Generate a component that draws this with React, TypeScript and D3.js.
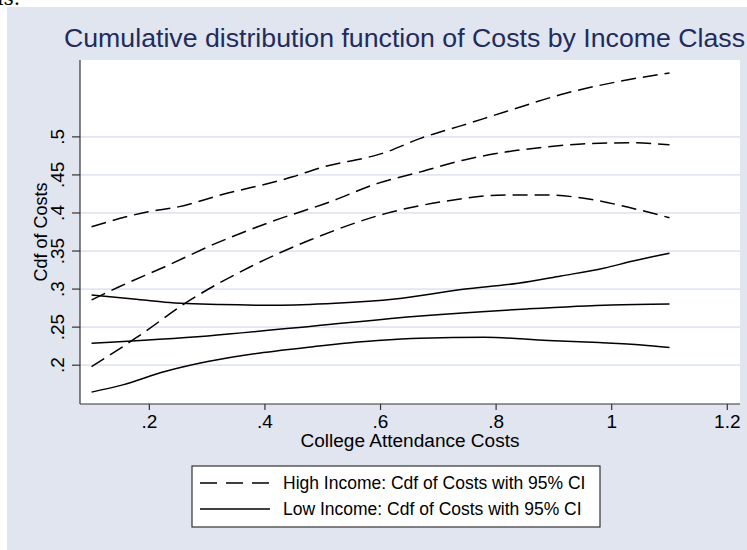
import React from 'react';
import * as d3 from 'd3';

const xTicks = [0.2, 0.4, 0.6, 0.8, 1, 1.2];
const xTickLabels = ['.2', '.4', '.6', '.8', '1', '1.2'];
const yTicks = [0.2, 0.25, 0.3, 0.35, 0.4, 0.45, 0.5];
const yTickLabels = ['.2', '.25', '.3', '.35', '.4', '.45', '.5'];

// High income (dashed)
const highUpperX = [0.1, 0.198, 0.25, 0.323, 0.448, 0.492, 0.61, 0.669, 0.743, 0.816, 0.919, 1.007, 1.1];
const highUpperY = [0.382, 0.4016, 0.408, 0.4235, 0.4475, 0.4585, 0.48, 0.498, 0.5154, 0.533, 0.557, 0.572, 0.584];
const highMidX = [0.1, 0.146, 0.227, 0.315, 0.411, 0.514, 0.595, 0.669, 0.743, 0.816, 0.89, 0.963, 1.037, 1.1];
const highMidY = [0.2858, 0.3024, 0.3294, 0.36, 0.3885, 0.415, 0.4389, 0.454, 0.4694, 0.48, 0.487, 0.4913, 0.4922, 0.4895];
const highLowerX = [0.1, 0.176, 0.271, 0.374, 0.478, 0.61, 0.706, 0.816, 0.89, 0.963, 1.037, 1.1];
const highLowerY = [0.198, 0.2354, 0.2857, 0.329, 0.3644, 0.3995, 0.4147, 0.4235, 0.4235, 0.418, 0.406, 0.3937];

// Low income (solid)
const lowUpperX = [0.1, 0.168, 0.227, 0.323, 0.419, 0.522, 0.625, 0.743, 0.838, 0.912, 0.986, 1.037, 1.1];
const lowUpperY = [0.2923, 0.2874, 0.2827, 0.2796, 0.2787, 0.2813, 0.287, 0.2997, 0.3076, 0.3172, 0.3273, 0.3369, 0.347];
const lowMidX = [0.1, 0.301, 0.485, 0.669, 0.853, 1.0, 1.1];
const lowMidY = [0.2289, 0.2385, 0.2516, 0.2647, 0.2739, 0.2791, 0.2804];
const lowLowerX = [0.1, 0.154, 0.227, 0.301, 0.389, 0.485, 0.595, 0.669, 0.78, 0.89, 0.978, 1.052, 1.1];
const lowLowerY = [0.1646, 0.1741, 0.1916, 0.2047, 0.2157, 0.2244, 0.2323, 0.2354, 0.2367, 0.2323, 0.2297, 0.2266, 0.2231];

const legendLabels = [
  'High Income: Cdf of Costs with 95% CI',
  'Low Income: Cdf of Costs with 95% CI',
];

const W = 747;
const H = 550;
const plot = { left: 80, right: 740, top: 60, bottom: 404 };
const FONT = 'Liberation Sans, Arial, Helvetica, sans-serif';
const DASH = '15 7';

export default function App() {
  const x = d3.scaleLinear().domain([0.08, 1.222]).range([plot.left, plot.right]);
  const y = d3.scaleLinear().domain([0.149, 0.601]).range([plot.bottom, plot.top]);
  const line = d3
    .line<[number, number]>()
    .x((d) => x(d[0]))
    .y((d) => y(d[1]))
    .curve(d3.curveMonotoneX);
  const zipXY = (xs: number[], ys: number[]) => xs.map((v, i) => [v, ys[i]] as [number, number]);

  const series = [
    { xs: highUpperX, ys: highUpperY, dashed: true },
    { xs: highMidX, ys: highMidY, dashed: true },
    { xs: highLowerX, ys: highLowerY, dashed: true },
    { xs: lowUpperX, ys: lowUpperY, dashed: false },
    { xs: lowMidX, ys: lowMidY, dashed: false },
    { xs: lowLowerX, ys: lowLowerY, dashed: false },
  ];

  const legend = { x: 192, y: 466, w: 408, h: 61 };

  return (
    <svg
      width={W}
      height={H}
      style={{ position: 'absolute', left: 0, top: 0 }}
      fontFamily={FONT}
    >
      <rect x={0} y={0} width={W} height={H} fill="#ffffff" />
      <text x={-3} y={5} fontFamily="DejaVu Serif, serif" fontSize={20} fill="#000">is.</text>
      <rect x={7} y={7} width={W - 7} height={H - 7} fill="#e0e5f0" />
      <text x={64} y={47} fontSize={25} fill="#1f2c5c" textLength={681} lengthAdjust="spacingAndGlyphs">
        Cumulative distribution function of Costs by Income Class
      </text>
      <rect
        x={plot.left}
        y={plot.top}
        width={plot.right - plot.left}
        height={plot.bottom - plot.top}
        fill="#ffffff"
      />
      {yTicks.map((t) => (
        <line
          key={'g' + t}
          x1={plot.left}
          x2={plot.right}
          y1={y(t)}
          y2={y(t)}
          stroke="#e1e6f0"
          strokeWidth={1.8}
        />
      ))}
      {series.map((s, i) => (
        <path
          key={i}
          d={line(zipXY(s.xs, s.ys)) || ''}
          fill="none"
          stroke="#000"
          strokeWidth={1.5}
          strokeDasharray={s.dashed ? DASH : undefined}
        />
      ))}
      <line x1={plot.left} x2={plot.left} y1={plot.top} y2={plot.bottom} stroke="#333" strokeWidth={1.2} />
      <line x1={plot.left} x2={plot.right} y1={plot.bottom} y2={plot.bottom} stroke="#333" strokeWidth={1.2} />
      {yTicks.map((t, i) => (
        <g key={'yt' + t}>
          <line x1={plot.left - 8} x2={plot.left} y1={y(t)} y2={y(t)} stroke="#333" strokeWidth={1.2} />
          <text
            transform={`translate(64,${y(t)}) rotate(-90)`}
            textAnchor="middle"
            fontSize={19}
            fill="#000"
          >
            {yTickLabels[i]}
          </text>
        </g>
      ))}
      {xTicks.map((t, i) => (
        <g key={'xt' + t}>
          <line x1={x(t)} x2={x(t)} y1={plot.bottom} y2={plot.bottom + 6} stroke="#333" strokeWidth={1.2} />
          <text x={x(t)} y={428} textAnchor="middle" fontSize={19} fill="#000">
            {xTickLabels[i]}
          </text>
        </g>
      ))}
      <text
        transform={`translate(47,${(plot.top + plot.bottom) / 2}) rotate(-90)`}
        textAnchor="middle"
        fontSize={18}
        fill="#000"
      >
        Cdf of Costs
      </text>
      <text x={(plot.left + plot.right) / 2} y={447} textAnchor="middle" fontSize={18} fill="#000" textLength={219} lengthAdjust="spacingAndGlyphs">
        College Attendance Costs
      </text>
      <rect
        x={legend.x}
        y={legend.y}
        width={legend.w}
        height={legend.h}
        fill="#ffffff"
        stroke="#333"
        strokeWidth={1.2}
      />
      {legendLabels.map((lab, i) => {
        const cy = 483 + i * 26;
        return (
          <g key={lab}>
            <line
              x1={200}
              x2={270}
              y1={cy}
              y2={cy}
              stroke="#000"
              strokeWidth={1.5}
              strokeDasharray={i === 0 ? '17 9' : undefined}
            />
            <text x={283} y={cy + 6} fontSize={17.5} fill="#000">
              {lab}
            </text>
          </g>
        );
      })}
    </svg>
  );
}
